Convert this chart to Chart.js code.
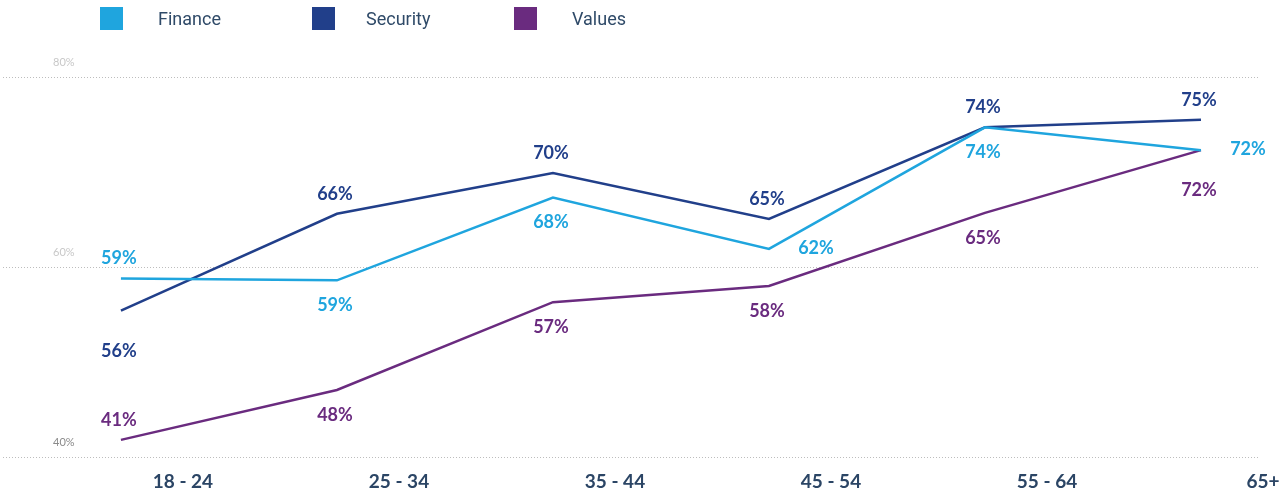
<!DOCTYPE html>
<html>
<head>
<meta charset="utf-8">
<script src="https://cdn.jsdelivr.net/npm/chart.js@4/dist/chart.umd.min.js"></script>
<style>
  html, body { margin: 0; padding: 0; background: #fff; }
  #wrap { position: relative; width: 1285px; height: 495px; }
  #leyenda { position: absolute; top: 0; left: 0; width: 100%; height: 40px; font-family: Roboto, sans-serif; font-size: 18px; color: #2f4a68; }
  .item { position: absolute; top: 7px; height: 23px; line-height: 23px; }
  .caja { position: absolute; left: 0; top: 0; width: 23px; height: 23px; }
  .txt { position: absolute; top: 0; white-space: nowrap; }
</style>
</head>
<body>
<div id="wrap">
  <canvas id="grafico"></canvas>
  <div id="leyenda"></div>
</div>
<script>
// Datos del grafico
const gruposEdad = ['18 - 24', '25 - 34', '35 - 44', '45 - 54', '55 - 64', '65+'];
const finance  = [58.8, 58.6, 67.3, 61.9, 74.7, 72.3];
const security = [55.4, 65.6, 69.9, 65.05, 74.7, 75.5];
const values   = [41.8, 47.05, 56.3, 58.0, 65.7, 72.3];
// Etiquetas tal como aparecen en la imagen
const financeEtiquetas  = ['59%', '59%', '68%', '62%', '74%', '72%'];
const securityEtiquetas = ['56%', '66%', '70%', '65%', '74%', '75%'];
const valuesEtiquetas   = ['41%', '48%', '57%', '58%', '65%', '72%'];
const ticksY = [40, 60, 80];

const colores = { finance: '#1fa5de', security: '#213f8a', values: '#6a2b7f' };

// donde va cada etiqueta respecto al punto
const lugarFinance  = ['arriba', 'abajo', 'abajo', 'derecha', 'abajo', 'derecha'];
const lugarSecurity = ['abajoLejos', 'arriba', 'arriba', 'arriba', 'arriba', 'arriba'];
const lugarValues   = ['arriba', 'abajo', 'abajo', 'abajo', 'abajo', 'abajoLejos'];

function serie(arr) {
    return arr.map((v, i) => ({ x: i, y: v }));
}

// Leyenda en HTML
const itemsLeyenda = [
    { nombre: 'Finance', color: colores.finance, left: 100, gap: 58 },
    { nombre: 'Security', color: colores.security, left: 312, gap: 54 },
    { nombre: 'Values', color: colores.values, left: 514, gap: 58 }
];
itemsLeyenda.forEach(it => {
    const d = document.createElement('div');
    d.className = 'item';
    d.style.left = it.left + 'px';
    d.innerHTML = `<span class="caja" style="background:${it.color}"></span><span class="txt" style="left:${it.gap}px">${it.nombre}</span>`;
    document.getElementById('leyenda').appendChild(d);
});

// Plugin para las etiquetas de los puntos
const etiquetasPlugin = {
    id: 'etiquetas',
    afterDatasetsDraw(chart) {
        const ctx = chart.ctx;
        ctx.save();
        ctx.font = 'bold 18px Lato, sans-serif';
        ctx.textAlign = 'center';
        ctx.textBaseline = 'middle';
        chart.data.datasets.forEach((ds, di) => {
            const meta = chart.getDatasetMeta(di);
            meta.data.forEach((pt, i) => {
                let dx = -2, dy = 0;
                const lugar = ds.lugares[i];
                if (lugar === 'arriba') dy = -20;
                else if (lugar === 'abajo') dy = 25;
                else if (lugar === 'abajoLejos') dy = 40;
                else if (lugar === 'derecha') { dx = 47; dy = -1; }
                ctx.fillStyle = ds.borderColor;
                ctx.fillText(ds.etiquetas[i], pt.x + dx, pt.y + dy);
            });
        });
        ctx.restore();
    }
};

const ctx = document.getElementById('grafico').getContext('2d');
const chart = new Chart(ctx, {
    type: 'line',
    data: {
        datasets: [
            { label: 'Finance', data: serie(finance), borderColor: colores.finance, etiquetas: financeEtiquetas, lugares: lugarFinance },
            { label: 'Security', data: serie(security), borderColor: colores.security, etiquetas: securityEtiquetas, lugares: lugarSecurity },
            { label: 'Values', data: serie(values), borderColor: colores.values, etiquetas: valuesEtiquetas, lugares: lugarValues }
        ]
    },
    options: {
        responsive: true,
        maintainAspectRatio: false,
        animation: false,
        datasets: {
            line: { borderWidth: 2.5, pointRadius: 0, tension: 0, fill: false }
        },
        layout: { padding: { left: 3, right: 27, top: 77, bottom: 2 } },
        plugins: {
            legend: { display: false },
            tooltip: { enabled: false }
        },
        scales: {
            x: {
                type: 'linear',
                min: -0.546,
                max: 5.264,
                grid: { display: false, drawTicks: false },
                border: { display: false },
                afterFit: axis => { axis.height = 36; },
                ticks: {
                    stepSize: 1,
                    includeBounds: false,
                    autoSkip: false,
                    maxRotation: 0,
                    padding: 13,
                    labelOffset: 62,
                    color: '#2b4565',
                    font: { family: 'Lato, sans-serif', size: 19, weight: 'bold' },
                    callback: v => Number.isInteger(v) && gruposEdad[v] !== undefined ? gruposEdad[v] : ''
                }
            },
            y: {
                min: 40,
                max: 80,
                afterBuildTicks: axis => { axis.ticks = ticksY.map(v => ({ value: v })); },
                afterFit: axis => {
                    axis.width = 0;
                    axis.paddingTop = 0;
                    axis.paddingBottom = 0;
                },
                grid: { color: '#bdbdbd', lineWidth: 1, drawTicks: false },
                border: { display: false, dash: [1, 2] },
                ticks: {
                    mirror: true,
                    padding: 50,
                    labelOffset: -15,
                    color: c => c.tick && c.tick.value === 40 ? '#8a8a8a' : '#c8c8c8',
                    font: { family: 'Lato, sans-serif', size: 11 },
                    callback: v => v + '%'
                }
            }
        }
    },
    plugins: [etiquetasPlugin]
});
</script>
</body>
</html>
